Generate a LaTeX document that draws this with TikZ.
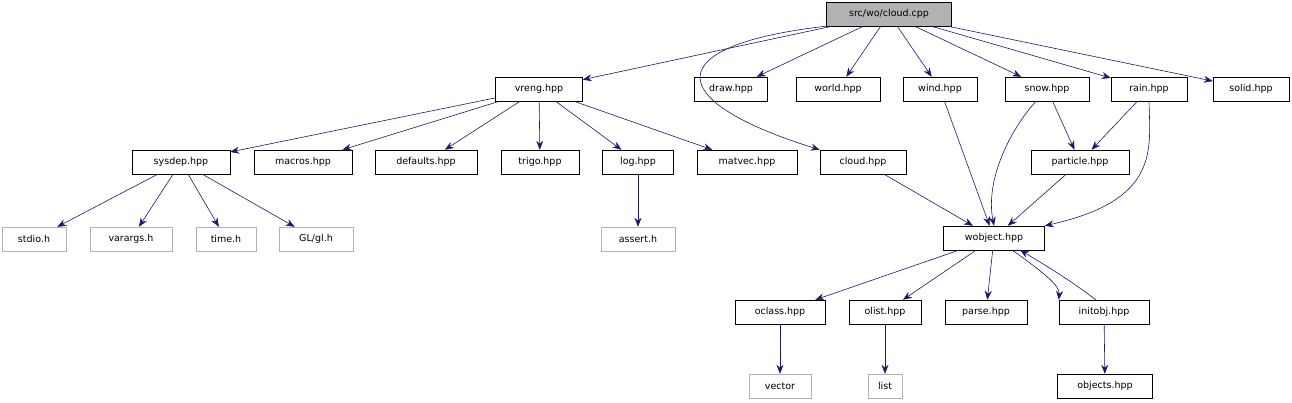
\documentclass[tikz,border=0pt]{standalone}
\usepackage{fontspec}
\setmainfont{DejaVu Sans}
\usetikzlibrary{arrows.meta}
\definecolor{edgec}{HTML}{191970}
\tikzset{x=1pt,y=-1pt,
 box/.style={draw=black,fill=white,minimum height=24pt,minimum width=#1,inner sep=0pt,font=\fontsize{9.5}{11}\selectfont},
 gbox/.style={box=#1,draw=black!30},
 edge/.style={draw=edgec,-{Stealth[length=9pt,width=7pt]},line width=0.6pt}}
\begin{document}
\begin{tikzpicture}
\useasboundingbox (0,0) rectangle (1292,402);
\node[box=125pt,fill=black!30] (main) at (889,14) {src/wo/cloud.cpp};
\node[box=87pt] (vreng) at (539,89) {vreng.hpp};
\node[box=73pt] (draw) at (731,89) {draw.hpp};
\node[box=84pt] (world) at (838,89) {world.hpp};
\node[box=74pt] (wind) at (940,89) {wind.hpp};
\node[box=84pt] (snow) at (1047,89) {snow.hpp};
\node[box=76pt] (rain) at (1149,89) {rain.hpp};
\node[box=76pt] (solid) at (1251,89) {solid.hpp};
\node[box=98pt] (sysdep) at (181,162) {sysdep.hpp};
\node[box=98pt] (macros) at (303,162) {macros.hpp};
\node[box=102pt] (defaults) at (426,162) {defaults.hpp};
\node[box=78pt] (trigo) at (540,162) {trigo.hpp};
\node[box=71pt] (log) at (638,162) {log.hpp};
\node[box=100pt] (matvec) at (747,162) {matvec.hpp};
\node[box=86pt] (cloudh) at (863,162) {cloud.hpp};
\node[box=98pt] (particle) at (1080,162) {particle.hpp};
\node[gbox=64pt] (stdio) at (34,239) {stdio.h};
\node[gbox=82pt] (varargs) at (131,239) {varargs.h};
\node[gbox=60pt] (time) at (226,239) {time.h};
\node[gbox=74pt] (gl) at (316,239) {GL/gl.h};
\node[gbox=74pt] (assert) at (638,239) {assert.h};
\node[box=101pt] (wobject) at (994,238) {wobject.hpp};
\node[box=90pt] (oclass) at (780,312) {oclass.hpp};
\node[box=72pt] (olist) at (885,312) {olist.hpp};
\node[box=82pt] (parse) at (986,312) {parse.hpp};
\node[box=90pt] (initobj) at (1104,312) {initobj.hpp};
\node[gbox=62pt] (vector) at (780,386) {vector};
\node[gbox=34pt] (list) at (885,386) {list};
\node[box=95pt] (objects) at (1105,386) {objects.hpp};

\draw[edge] (main) -- (vreng);
\draw[edge] (main) -- (draw);
\draw[edge] (main) -- (world);
\draw[edge] (main) -- (wind);
\draw[edge] (main) -- (snow);
\draw[edge] (main) -- (rain);
\draw[edge] (main) -- (solid);
\draw[edge] (main.south west) .. controls (660,45) and (660,100) .. (cloudh.north west);
\draw[edge] (vreng) -- (sysdep);
\draw[edge] (vreng) -- (macros);
\draw[edge] (vreng) -- (defaults);
\draw[edge] (vreng) -- (trigo);
\draw[edge] (vreng) -- (log);
\draw[edge] (vreng) -- (matvec);
\draw[edge] (sysdep) -- (stdio);
\draw[edge] (sysdep) -- (varargs);
\draw[edge] (sysdep) -- (time);
\draw[edge] (sysdep) -- (gl);
\draw[edge] (log) -- (assert);
\draw[edge] (cloudh) -- (wobject);
\draw[edge] (wind) -- (wobject);
\draw[edge] (snow) .. controls (1010,130) and (985,180) .. (wobject.north);
\draw[edge] (snow) -- (particle);
\draw[edge] (rain) -- (particle);
\draw[edge] (rain.south) .. controls (1150,150) and (1160,200) .. (wobject.north east);
\draw[edge] (particle) -- (wobject);
\draw[edge] (wobject) -- (oclass);
\draw[edge] (wobject) -- (olist);
\draw[edge] (wobject) -- (parse);
\draw[edge] (1012,250) .. controls (1040,270) and (1060,285) .. (initobj.north west);
\draw[edge] (1096,300) .. controls (1070,280) and (1045,265) .. (1020,250);
\draw[edge] (oclass) -- (vector);
\draw[edge] (olist) -- (list);
\draw[edge] (initobj) -- (objects);
\end{tikzpicture}
\end{document}
